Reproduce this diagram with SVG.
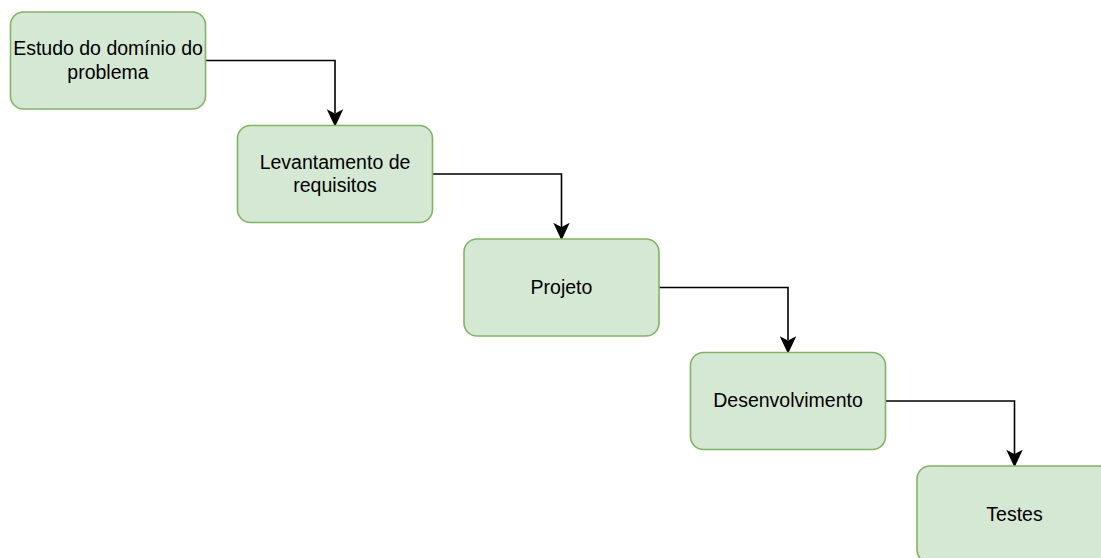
<svg xmlns="http://www.w3.org/2000/svg" width="1101" height="558" viewBox="0 0 1101 558">
<style>
.node rect{fill:#d5e8d4;stroke:#82b366;stroke-width:1.6}
.node text{font-family:"Liberation Sans",Arial,sans-serif;font-size:19.5px;fill:#000;text-anchor:middle}
.edge{fill:none;stroke:#000;stroke-width:1.6}
.head{fill:#000;stroke:#000;stroke-width:1.6;stroke-linejoin:miter}
</style>
<rect width="1101" height="558" fill="#fff"/>
<g id="connectors">
<path class="edge" d="M205.5 60.5 H335 V113"/>
<path class="head" d="M335 125 L328.5 111 L335 114.5 L341.5 111 Z"/>
<path class="edge" d="M432.5 174 H561.5 V227"/>
<path class="head" d="M561.5 238.5 L555 224.5 L561.5 228 L568 224.5 Z"/>
<path class="edge" d="M659 287.5 H788 V340"/>
<path class="head" d="M788 352 L781.5 338 L788 341.5 L794.5 338 Z"/>
<path class="edge" d="M885.5 401 H1014.5 V454"/>
<path class="head" d="M1014.5 465.5 L1008 451.5 L1014.5 455 L1021 451.5 Z"/>
</g>
<g id="node1" class="node">
<rect x="10.5" y="12" width="195" height="97" rx="13"/>
<text x="108" y="55">Estudo do domínio do</text>
<text x="108" y="78.5">problema</text>
</g>
<g id="node2" class="node">
<rect x="237.5" y="125.5" width="195" height="97" rx="13"/>
<text x="335" y="168.5">Levantamento de</text>
<text x="335" y="192">requisitos</text>
</g>
<g id="node3" class="node">
<rect x="464" y="239" width="195" height="97" rx="13"/>
<text x="561.5" y="293.5">Projeto</text>
</g>
<g id="node4" class="node">
<rect x="690.5" y="352.5" width="195" height="97" rx="13"/>
<text x="788" y="407">Desenvolvimento</text>
</g>
<g id="node5" class="node">
<rect x="917" y="466" width="195" height="97" rx="13"/>
<text x="1014.5" y="520.5">Testes</text>
</g>
</svg>
